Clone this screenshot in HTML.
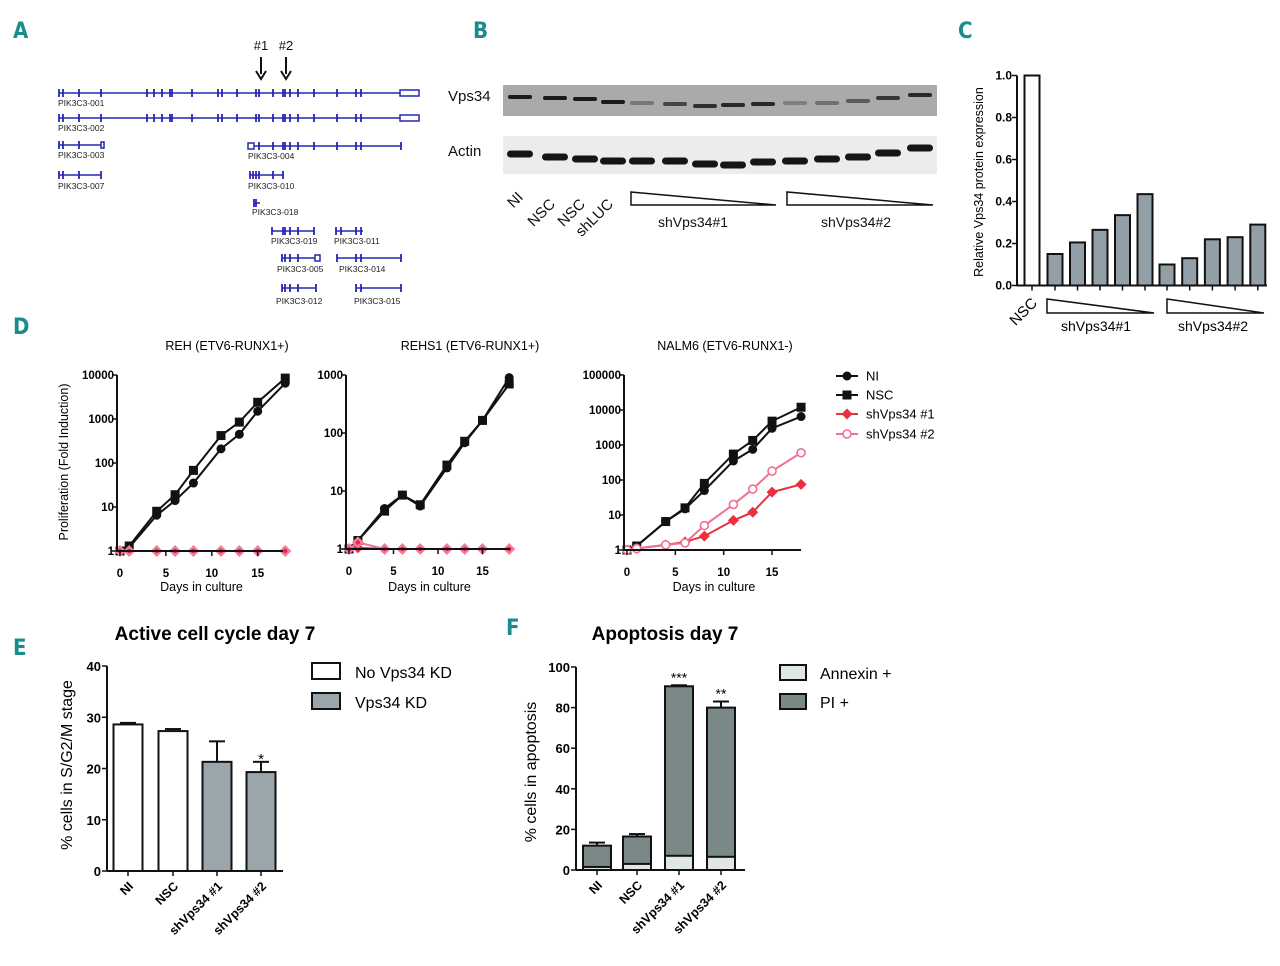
<!DOCTYPE html>
<html><head><meta charset="utf-8"><style>
html,body{margin:0;padding:0;background:#fff;}
svg{display:block;font-family:"Liberation Sans",Arial,sans-serif;}
.pl{font-family:"DejaVu Sans Condensed","Liberation Sans",sans-serif;fill:#1a8c8c;font-size:22px;font-weight:bold;}
</style></head><body>
<svg id="s" width="1280" height="966" viewBox="0 0 1280 966" xmlns="http://www.w3.org/2000/svg">
<text class="pl" x="13" y="38">A</text>
<text class="pl" x="473" y="38">B</text>
<text class="pl" x="958" y="38">C</text>
<text class="pl" x="13" y="334">D</text>
<text class="pl" x="13" y="655">E</text>
<text class="pl" x="506" y="635">F</text>
<g id="gA"></g>
<g id="gB"></g>
<g id="gC"></g>
<g id="gD"></g>
<g id="gE"></g>
<g id="gF"></g>
</svg>
<script>
// ---- Panel C data
const cCats=["NSC","s1a","s1b","s1c","s1d","s1e","s2a","s2b","s2c","s2d","s2e"];
const cVals=[1.0,0.15,0.205,0.265,0.335,0.435,0.10,0.13,0.22,0.23,0.29];
const cTicks=[0,0.2,0.4,0.6,0.8,1.0];
// ---- Panel D data
const days=[0,1,4,6,8,11,13,15,18];
const rehNI=[1,1.2,6.5,14,35,210,450,1500,6500];
const rehNSC=[1,1.3,8,19,68,420,850,2400,8500];
const rehSh1=[1,1,1,1,1,1,1,1,1];
const rehSh2=[1,1,1,1,1,1,1,1,1];
const rehs1NI=[1,1.4,5,8.5,5.5,25,68,165,900];
const rehs1NSC=[1,1.4,4.5,8.5,5.8,28,72,165,700];
const rehs1Sh1=[1,1.05,1,1,1,1,1,1,1];
const rehs1Sh2=[1,1.3,1,1,1,1,1,1,1];
const nalmNI=[1,1.3,6.5,15,50,350,750,3000,6500];
const nalmNSC=[1,1.3,6.5,16,80,550,1350,4800,12000];
const nalmSh1=[1,1.1,1.4,1.7,2.5,7,12,45,75];
const nalmSh2=[1,1.1,1.4,1.6,5,20,55,180,600];
const dXTicks=[0,5,10,15];
// ---- Panel E data
const eCats=["NI","NSC","shVps34 #1","shVps34 #2"];
const eVals=[28.6,27.3,21.3,19.3];
const eErr=[0.3,0.4,4.0,2.0];
const eTicks=[0,10,20,30,40];
// ---- Panel F data
const fCats=["NI","NSC","shVps34 #1","shVps34 #2"];
const fAnnexin=[1.5,3,7,6.5];
const fTotal=[12,16.5,90.5,80];
const fErr=[1.5,1.2,0.5,3];
const fTicks=[0,20,40,60,80,100];
const fStars=["","","***","**"];

const NS="http://www.w3.org/2000/svg";
function mk(p,t,a,txt){const e=document.createElementNS(NS,t);for(const k in a)e.setAttribute(k,a[k]);if(txt!==undefined)e.textContent=txt;p.appendChild(e);return e;}

// ================= Panel A
(function(){
const g=document.getElementById('gA');const B="#2626b4";
const rows=[
 {n:"PIK3C3-001",x1:59,x2:400,y:93,ly:106,lx:58,box:[400,419],ex:[59,63,79,101,147,154,162,170,172,192,218,222,237,256,259,273,283,285,290,298,314,337,356,361]},
 {n:"PIK3C3-002",x1:59,x2:400,y:118,ly:131,lx:58,box:[400,419],ex:[59,63,79,101,147,154,162,170,172,192,218,222,237,256,259,273,283,285,290,298,314,337,356,361]},
 {n:"PIK3C3-003",x1:59,x2:101,y:145,ly:158,lx:58,box:[101,104],ex:[59,63,79]},
 {n:"PIK3C3-004",x1:248,x2:401,y:146,ly:159,lx:248,box:[248,254],ex:[259,273,283,285,290,298,314,337,356,361,401]},
 {n:"PIK3C3-007",x1:59,x2:101,y:175,ly:189,lx:58,ex:[59,63,79,101]},
 {n:"PIK3C3-010",x1:250,x2:283,y:175,ly:189,lx:248,ex:[250,253,256,259,273,283]},
 {n:"PIK3C3-018",x1:254,x2:260,y:203,ly:215,lx:252,ex:[254,256]},
 {n:"PIK3C3-019",x1:272,x2:314,y:231,ly:244,lx:271,ex:[272,283,285,290,298,314]},
 {n:"PIK3C3-011",x1:336,x2:363,y:231,ly:244,lx:334,ex:[336,341,356,361]},
 {n:"PIK3C3-005",x1:282,x2:316,y:258,ly:272,lx:277,box:[315,320],ex:[282,285,290,298]},
 {n:"PIK3C3-014",x1:337,x2:401,y:258,ly:272,lx:339,ex:[337,356,361,401]},
 {n:"PIK3C3-012",x1:282,x2:316,y:288,ly:304,lx:276,ex:[282,285,290,298,316]},
 {n:"PIK3C3-015",x1:356,x2:401,y:288,ly:304,lx:354,ex:[356,361,401]}];
rows.forEach(r=>{
 const t=mk(g,'g',{});
 mk(t,'line',{x1:r.x1,x2:r.x2,y1:r.y,y2:r.y,stroke:B,'stroke-width':1.5});
 r.ex.forEach(x=>mk(t,'line',{x1:x,x2:x,y1:r.y-4,y2:r.y+4,stroke:B,'stroke-width':1.8}));
 if(r.box)mk(t,'rect',{x:r.box[0],y:r.y-3,width:r.box[1]-r.box[0],height:6,fill:'#fff',stroke:B,'stroke-width':1.5});
 mk(t,'text',{x:r.lx,y:r.ly,'font-size':8.5,fill:'#222'},r.n);
});
[[261,"#1"],[286,"#2"]].forEach(([x,l])=>{
 const a=mk(g,'g',{});
 mk(a,'text',{x:x,y:50,'font-size':13,'text-anchor':'middle',fill:'#111'},l);
 mk(a,'line',{x1:x,x2:x,y1:57,y2:74,stroke:'#111','stroke-width':2});
 mk(a,'path',{d:`M${x-5} 71 L${x} 79 L${x+5} 71`,fill:'none',stroke:'#111','stroke-width':2});
});
})();

// ================= Panel B
(function(){
const g=document.getElementById('gB');
mk(g,'rect',{x:503,y:85,width:434,height:31,fill:'#a9abaa'});
mk(g,'rect',{x:503,y:136,width:434,height:38,fill:'#ececec'});
mk(g,'text',{x:448,y:101,'font-size':15,fill:'#111'},"Vps34");
mk(g,'text',{x:448,y:156,'font-size':15,fill:'#111'},"Actin");
const lanes=[520,555,585,613,642,675,705,733,763,795,827,858,888,920];
const vy=[97,98,99,102,103,104,106,105,104,103,103,101,98,95];
const vo=[1,1,1,1,0.35,0.7,0.85,0.9,0.9,0.3,0.4,0.55,0.8,0.9];
const ay=[154,157,159,161,161,161,164,165,162,161,159,157,153,148];
lanes.forEach((x,i)=>{
 const b=mk(g,'rect',{x:x-12,y:vy[i]-2,width:24,height:4,rx:2,fill:'#1a1a1a','fill-opacity':vo[i]});
 
 const a=mk(g,'rect',{x:x-13,y:ay[i]-3.5,width:26,height:7,rx:3.5,fill:'#151515'});
 
});
[["NI",524,198],["NSC",556,205],["NSC",586,205],["shLUC",614,205]].forEach(([t,x,y])=>mk(g,'text',{x:x,y:y,'font-size':15,'text-anchor':'end',transform:`rotate(-45 ${x} ${y})`,fill:'#111'},t));
mk(g,'path',{d:'M631 192 L631 205 L776 205 Z',fill:'#fff',stroke:'#111','stroke-width':1.5});
mk(g,'path',{d:'M787 192 L787 205 L933 205 Z',fill:'#fff',stroke:'#111','stroke-width':1.5});
mk(g,'text',{x:693,y:227,'font-size':14,'text-anchor':'middle',fill:'#111'},"shVps34#1");
mk(g,'text',{x:856,y:227,'font-size':14,'text-anchor':'middle',fill:'#111'},"shVps34#2");
})();

// ================= Panel C
(function(){
const g=document.getElementById('gC');
const X0=1017,Y0=285.5,Y1=75.5;
const y=v=>Y0-(Y0-Y1)*v/1.0;
const xs=i=>i===0?1032:(i<=5?1055+22.5*(i-1):1167+22.7*(i-6));
cVals.forEach((v,i)=>{
 const r=mk(g,'rect',{x:xs(i)-7.5,y:y(v),width:15,height:Y0-y(v),fill:i===0?'#fff':'#939fa6',stroke:'#111','stroke-width':2});
 
 mk(g,'line',{x1:xs(i),x2:xs(i),y1:Y0,y2:Y0+5,stroke:'#111','stroke-width':1.5});
});
mk(g,'line',{x1:X0,x2:X0,y1:Y1,y2:Y0,stroke:'#111','stroke-width':2});
mk(g,'line',{x1:X0,x2:1267,y1:Y0,y2:Y0,stroke:'#111','stroke-width':2});
cTicks.forEach(t=>{mk(g,'line',{x1:X0-5,x2:X0,y1:y(t),y2:y(t),stroke:'#111','stroke-width':1.5});
 mk(g,'text',{x:X0-5,y:y(t)+4,'font-size':12,'font-weight':'bold','text-anchor':'end'},t.toFixed(1));});
mk(g,'text',{x:983,y:182,'font-size':12.5,'text-anchor':'middle',transform:'rotate(-90 983 182)'},"Relative Vps34 protein expression");
mk(g,'text',{x:1038,y:304,'font-size':15,'text-anchor':'end',transform:'rotate(-45 1038 304)'},"NSC");
mk(g,'path',{d:'M1047 299 L1047 313 L1154 313 Z',fill:'#fff',stroke:'#111','stroke-width':1.5});
mk(g,'path',{d:'M1167 299 L1167 313 L1264 313 Z',fill:'#fff',stroke:'#111','stroke-width':1.5});
mk(g,'text',{x:1096,y:331,'font-size':14,'text-anchor':'middle'},"shVps34#1");
mk(g,'text',{x:1213,y:331,'font-size':14,'text-anchor':'middle'},"shVps34#2");
})();

// ================= Panel D
(function(){
const g=document.getElementById('gD');
const plots=[
 {title:"REH (ETV6-RUNX1+)",tx:227,x0:120,pd:9.18,yTop:375,yBot:551,dec:4,ser:[rehNI,rehNSC,rehSh1,rehSh2],xEnd:283},
 {title:"REHS1 (ETV6-RUNX1+)",tx:470,x0:349,pd:8.9,yTop:375,yBot:549,dec:3,ser:[rehs1NI,rehs1NSC,rehs1Sh1,rehs1Sh2],xEnd:510},
 {title:"NALM6 (ETV6-RUNX1-)",tx:725,x0:627,pd:9.67,yTop:375,yBot:550,dec:5,ser:[nalmNI,nalmNSC,nalmSh1,nalmSh2],xEnd:801}];
const cols=['#111','#111','#e8303f','#f07090'];
const kinds=['circle','square','diamond','ocircle'];
function marker(p,k,x,y,c){
 if(k==='circle')mk(p,'circle',{cx:x,cy:y,r:4.5,fill:c});
 else if(k==='square')mk(p,'rect',{x:x-4.5,y:y-4.5,width:9,height:9,fill:c});
 else if(k==='ocircle')mk(p,'circle',{cx:x,cy:y,r:4,fill:'#fff',stroke:c,'stroke-width':1.6});
 else mk(p,'path',{d:`M${x} ${y-5.5}L${x+5.5} ${y}L${x} ${y+5.5}L${x-5.5} ${y}Z`,fill:c});
}
plots.forEach((P,pi)=>{
 const pg=mk(g,'g',{});
 const X=d=>P.x0+P.pd*d;
 const Y=v=>P.yBot-(P.yBot-P.yTop)*Math.log10(v)/P.dec;
 mk(pg,'text',{x:P.tx,y:350,'font-size':12.5,'text-anchor':'middle'},P.title);
 P.ser.forEach((s,si)=>{
  const sg=mk(pg,'g',{});
  mk(sg,'polyline',{points:days.map((d,i)=>X(d)+','+Y(s[i])).join(' '),fill:'none',stroke:cols[si],'stroke-width':2});
  days.forEach((d,i)=>{
   if(si===3&&pi<2){mk(sg,'path',{d:`M${X(d)} ${Y(s[i])-6}L${X(d)+6} ${Y(s[i])}L${X(d)} ${Y(s[i])+6}L${X(d)-6} ${Y(s[i])}Z`,fill:'#f77a98'});mk(sg,'circle',{cx:X(d),cy:Y(s[i]),r:2.2,fill:'#e02858'});}
   else marker(sg,kinds[si],X(d),Y(s[i]),cols[si]);
  });
 });
 const ax=P.x0-3;
 mk(pg,'line',{x1:ax,x2:ax,y1:P.yTop,y2:P.yBot,stroke:'#111','stroke-width':2});
 mk(pg,'line',{x1:ax,x2:P.xEnd,y1:P.yBot,y2:P.yBot,stroke:'#111','stroke-width':2});
 for(let k=0;k<=P.dec;k++){const v=Math.pow(10,k);
  mk(pg,'line',{x1:ax-5,x2:ax,y1:Y(v),y2:Y(v),stroke:'#111','stroke-width':1.5});
  mk(pg,'text',{x:ax-3,y:Y(v)+4,'font-size':11.5,'font-weight':'bold','text-anchor':'end'},String(v));}
 dXTicks.forEach(t=>{mk(pg,'line',{x1:X(t),x2:X(t),y1:P.yBot,y2:P.yBot+5,stroke:'#111','stroke-width':1.5});
  mk(pg,'text',{x:X(t),y:P.yBot+26,'font-size':11.5,'font-weight':'bold','text-anchor':'middle'},String(t));});
 mk(pg,'text',{x:(P.x0+P.xEnd)/2,y:591,'font-size':12.5,'text-anchor':'middle'},"Days in culture");
});
mk(g,'text',{x:68,y:462,'font-size':12.5,'text-anchor':'middle',transform:'rotate(-90 68 462)'},"Proliferation (Fold Induction)");
const lg=["NI","NSC","shVps34 #1","shVps34 #2"],ly=[376,395,414,434],lk=['circle','square','diamond','ocircle'],lc=['#111','#111','#e8303f','#f07090'];
lg.forEach((t,i)=>{const e=mk(g,'g',{});
 mk(e,'line',{x1:836,x2:858,y1:ly[i],y2:ly[i],stroke:lc[i],'stroke-width':2});marker(e,lk[i],847,ly[i],lc[i]);
 mk(e,'text',{x:866,y:ly[i]+4.5,'font-size':13},t);});
})();

// ================= Panel E
(function(){
const g=document.getElementById('gE');
const X0=107,Y0=871,Y1=666,xs=[128,173,217,261];
const y=v=>Y0-(Y0-Y1)*v/40;
mk(g,'text',{x:215,y:640,'font-size':19,'font-weight':'bold','text-anchor':'middle'},"Active cell cycle day 7");
eVals.forEach((v,i)=>{
 mk(g,'line',{x1:xs[i],x2:xs[i],y1:y(v),y2:y(v+eErr[i]),stroke:'#111','stroke-width':2});
 mk(g,'line',{x1:xs[i]-8,x2:xs[i]+8,y1:y(v+eErr[i]),y2:y(v+eErr[i]),stroke:'#111','stroke-width':2});
 const r=mk(g,'rect',{x:xs[i]-14.5,y:y(v),width:29,height:Y0-y(v),fill:i<2?'#fff':'#9aa6ac',stroke:'#111','stroke-width':2});
 
 mk(g,'line',{x1:xs[i],x2:xs[i],y1:Y0,y2:Y0+5,stroke:'#111','stroke-width':1.5});
 mk(g,'text',{x:xs[i]+6,y:Y0+16,'font-size':12.5,'font-weight':'bold','text-anchor':'end',transform:`rotate(-45 ${xs[i]+6} ${Y0+16})`},eCats[i]);
});
mk(g,'text',{x:261,y:y(eVals[3]+eErr[3])+2,'font-size':15,'text-anchor':'middle'},"*");
mk(g,'line',{x1:X0,x2:X0,y1:Y1,y2:Y0,stroke:'#111','stroke-width':2});
mk(g,'line',{x1:X0,x2:283,y1:Y0,y2:Y0,stroke:'#111','stroke-width':2});
eTicks.forEach(t=>{mk(g,'line',{x1:X0-5,x2:X0,y1:y(t),y2:y(t),stroke:'#111','stroke-width':1.5});
 mk(g,'text',{x:X0-6,y:y(t)+5,'font-size':13,'font-weight':'bold','text-anchor':'end'},String(t));});
mk(g,'text',{x:72,y:765,'font-size':16,'text-anchor':'middle',transform:'rotate(-90 72 765)'},"% cells in S/G2/M stage");
[["No Vps34 KD",'#fff',663],["Vps34 KD",'#9aa6ac',693]].forEach(([t,c,yy])=>{const e=mk(g,'g',{});
 mk(e,'rect',{x:312,y:yy,width:28,height:16,fill:c,stroke:'#111','stroke-width':2});mk(e,'text',{x:355,y:yy+15,'font-size':16},t);});
})();

// ================= Panel F
(function(){
const g=document.getElementById('gF');
const X0=576,Y0=870,Y1=667,xs=[597,637,679,721];
const y=v=>Y0-(Y0-Y1)*v/100;
mk(g,'text',{x:665,y:640,'font-size':19,'font-weight':'bold','text-anchor':'middle'},"Apoptosis day 7");
fTotal.forEach((v,i)=>{
 mk(g,'line',{x1:xs[i],x2:xs[i],y1:y(v),y2:y(v+fErr[i]),stroke:'#111','stroke-width':2});
 mk(g,'line',{x1:xs[i]-8,x2:xs[i]+8,y1:y(v+fErr[i]),y2:y(v+fErr[i]),stroke:'#111','stroke-width':2});
 const r=mk(g,'rect',{x:xs[i]-14,y:y(v),width:28,height:Y0-y(v),fill:'#7a8987',stroke:'#111','stroke-width':2});
 
 const a=mk(g,'rect',{x:xs[i]-14,y:y(fAnnexin[i]),width:28,height:Y0-y(fAnnexin[i]),fill:'#dfe6e3',stroke:'#111','stroke-width':2});
 
 mk(g,'line',{x1:xs[i],x2:xs[i],y1:Y0,y2:Y0+5,stroke:'#111','stroke-width':1.5});
 mk(g,'text',{x:xs[i]+6,y:Y0+16,'font-size':12.5,'font-weight':'bold','text-anchor':'end',transform:`rotate(-45 ${xs[i]+6} ${Y0+16})`},fCats[i]);
 if(fStars[i])mk(g,'text',{x:xs[i],y:y(v+fErr[i])-3,'font-size':14,'text-anchor':'middle'},fStars[i]);
});
mk(g,'line',{x1:X0,x2:X0,y1:Y1,y2:Y0,stroke:'#111','stroke-width':2});
mk(g,'line',{x1:X0,x2:745,y1:Y0,y2:Y0,stroke:'#111','stroke-width':2});
fTicks.forEach(t=>{mk(g,'line',{x1:X0-5,x2:X0,y1:y(t),y2:y(t),stroke:'#111','stroke-width':1.5});
 mk(g,'text',{x:X0-6,y:y(t)+5,'font-size':13,'font-weight':'bold','text-anchor':'end'},String(t));});
mk(g,'text',{x:536,y:772,'font-size':16,'text-anchor':'middle',transform:'rotate(-90 536 772)'},"% cells in apoptosis");
[["Annexin +",'#dfe6e3',665],["PI +",'#7a8987',694]].forEach(([t,c,yy])=>{const e=mk(g,'g',{});
 mk(e,'rect',{x:780,y:yy,width:26,height:15,fill:c,stroke:'#111','stroke-width':2});mk(e,'text',{x:820,y:yy+14,'font-size':16},t);});
})();
</script>
</body></html>
